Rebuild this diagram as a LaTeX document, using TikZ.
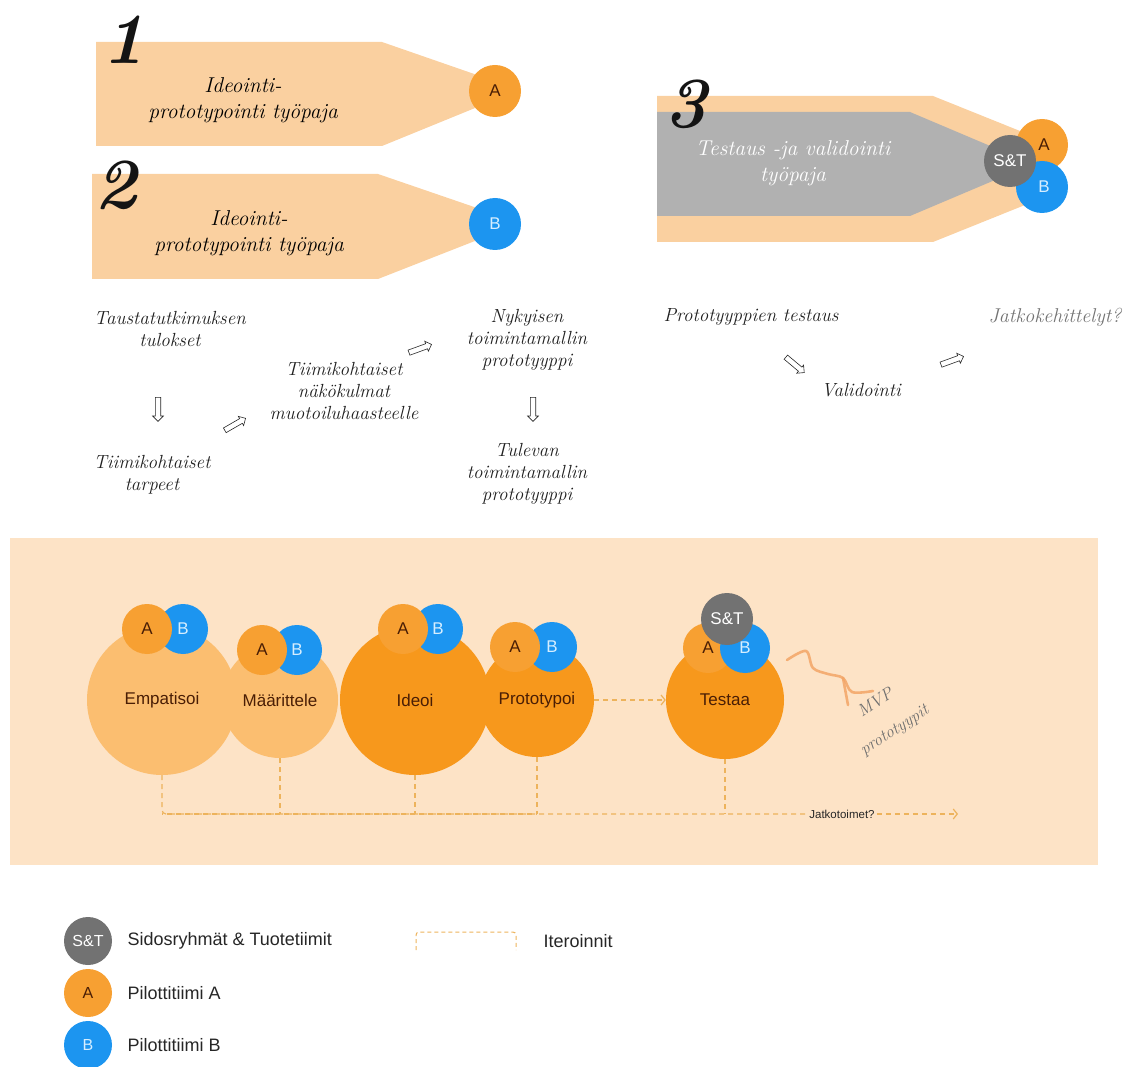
\documentclass[tikz,border=0pt]{standalone}
\usepackage{fontspec}
\setsansfont{Liberation Sans}
\usetikzlibrary{shapes.arrows,arrows.meta}
\definecolor{peach}{HTML}{FAD0A0}
\definecolor{band}{HTML}{FDE3C6}
\definecolor{orA}{HTML}{F7A032}
\definecolor{blB}{HTML}{1C95F0}
\definecolor{gST}{HTML}{727272}
\definecolor{gIn}{HTML}{B1B1B1}
\definecolor{lorange}{HTML}{FBBE70}
\definecolor{dorange}{HTML}{F7981C}
\definecolor{itc}{HTML}{EDB35C}
\definecolor{atext}{HTML}{4A1E05}
\definecolor{btext}{HTML}{D6EEFF}
\definecolor{squig}{HTML}{F3A566}
\definecolor{mvpgray}{HTML}{6E6E6E}
\begin{document}
\begin{tikzpicture}[x=1pt,y=-1pt,
  circA/.style={circle, fill=orA, minimum size=52pt, inner sep=0pt, text=atext, font=\sffamily\fontsize{17}{17}\selectfont},
  circB/.style={circle, fill=blB, minimum size=52pt, inner sep=0pt, text=btext, font=\sffamily\fontsize{17}{17}\selectfont},
  circS/.style={circle, fill=gST, minimum size=52pt, inner sep=0pt, text=white, font=\sffamily\fontsize{17}{17}\selectfont},
  lcirc/.style={circle, minimum size=48pt, inner sep=0pt, font=\sffamily\fontsize{16}{16}\selectfont},
  bigc/.style={circle, inner sep=0pt, text=atext, font=\sffamily\fontsize{17}{17}\selectfont},
  hand/.style={align=center, text=black!88, font=\fontsize{19}{22}\selectfont\itshape\addfontfeature{LetterSpace=3}},
  handbox/.style={align=center, font=\fontsize{21.5}{26}\selectfont\itshape\addfontfeature{LetterSpace=4}},
  numeral/.style={font=\fontsize{72}{72}\selectfont\bfseries\itshape, text=black!92},
  iter/.style={draw=itc, line width=1.2pt, dash pattern=on 5pt off 4pt},
  harrow/.style={single arrow, draw=black!85, line width=0.6pt, minimum height=24pt, inner sep=2.4pt, single arrow head extend=2.6pt},
  legtext/.style={anchor=west, font=\sffamily\fontsize{18}{18}\selectfont, text=black!85}
]
\useasboundingbox (0,0) rectangle (1144,1067);

% ---------- workshop 1 ----------
\fill[peach] (96,42) -- (382,42) -- (480,76) -- (480,106) -- (382,146) -- (96,146) -- cycle;
\node[numeral] (n1) at (124,40) {1};
\node[handbox] (w1) at (243,100) {Ideointi-\\prototypointi työpaja};
\node[circA] (a1) at (495,91) {A};

% ---------- workshop 2 ----------
\fill[peach] (92,174) -- (378,174) -- (480,209) -- (480,239) -- (378,279) -- (92,279) -- cycle;
\node[numeral] (n2) at (116,185) {2};
\node[handbox] (w2) at (249,233) {Ideointi-\\prototypointi työpaja};
\node[circB] (b2) at (495,224) {B};

% ---------- workshop 3 ----------
\fill[peach] (657,96) -- (933,96) -- (1025,133) -- (1025,205) -- (933,242) -- (657,242) -- cycle;
\fill[gIn] (657,112) -- (910,112) -- (995,148) -- (995,180) -- (910,216) -- (657,216) -- cycle;
\node[numeral] (n3) at (686,104) {3};
\node[handbox, text=white] (w3) at (793,163) {Testaus -ja validointi\\työpaja};
\node[circA] (a3) at (1042,145) {\hspace*{4pt}A};
\node[circB] (b3) at (1042,187) {\hspace*{4pt}B};
\node[circS] (s3) at (1010,161) {S\&T};

% ---------- process texts ----------
\node[hand] (t1) at (170,329) {Taustatutkimuksen\\tulokset};
\node[harrow, rotate=-90] (ar1) at (158,408) {};
\node[hand] (t2) at (152,475) {Tiimikohtaiset\\tarpeet};
\node[harrow, rotate=30] (ar2) at (234,425) {};
\node[hand] (t3) at (344,391) {Tiimikohtaiset\\näkökulmat\\muotoiluhaasteelle};
\node[harrow, rotate=20] (ar3) at (419,349) {};
\node[hand] (t4) at (527,340) {Nykyisen\\toimintamallin\\prototyyppi};
\node[harrow, rotate=-90] (ar4) at (533,408) {};
\node[hand] (t5) at (527,474) {Tulevan\\toimintamallin\\prototyyppi};

\node[hand] (t6) at (751,317) {Prototyyppien testaus};
\node[harrow, rotate=-40] (ar5) at (794,364) {};
\node[hand] (t7) at (861,390) {Validointi};
\node[harrow, rotate=20] (ar6) at (951,361) {};
\node[hand, text=black!55, font=\fontsize{20}{22}\selectfont\itshape\addfontfeature{LetterSpace=20}] (t8) at (1055,317) {Jatkokehittelyt?};

% ---------- design thinking band ----------
\fill[band] (10,538) rectangle (1098,865);

\node[bigc, fill=lorange, minimum size=150pt] (emp) at (162,700) {};
\node[bigc, fill=lorange, minimum size=116pt] (maa) at (280,700) {};
\node[bigc, fill=dorange, minimum size=150pt] (ide) at (415,700) {};
\node[bigc, fill=dorange, minimum size=114pt] (pro) at (537,700) {};
\node[bigc, fill=dorange, minimum size=118pt] (tes) at (725,700) {};

\node[bigc] (empl) at (emp) {Empatisoi};
\node[bigc] (maal) at (maa) {Määrittele};
\node[bigc] (idel) at (ide) {Ideoi};
\node[bigc] (prol) at (pro) {Prototypoi};
\node[bigc] (tesl) at (tes) {Testaa};

\node[circB, minimum size=50pt] (eb) at (183,629) {B};
\node[circA, minimum size=50pt] (ea) at (147,629) {A};
\node[circB, minimum size=50pt] (mb) at (297,650) {B};
\node[circA, minimum size=50pt] (ma) at (262,650) {A};
\node[circB, minimum size=50pt] (ib) at (438,629) {B};
\node[circA, minimum size=50pt] (ia) at (403,629) {A};
\node[circB, minimum size=50pt] (pb) at (552,647) {B};
\node[circA, minimum size=50pt] (pa) at (515,647) {A};
\node[circA, minimum size=50pt] (ta) at (708,648) {A};
\node[circB, minimum size=50pt] (tb) at (745,648) {B};
\node[circS, minimum size=52pt] (ts) at (727,619) {S\&T};

% iterations
\coordinate (endc) at (958,814);
\node[fill=band, inner sep=2pt, font=\sffamily\fontsize{11.5}{11.5}\selectfont, text=black!85] (jat) at (842,814) {Jatkotoimet?};
\draw[iter, rounded corners=4pt] (emp.south) |- (jat.west);
\draw[iter, dash phase=4.5pt] (emp.south |- endc) -- (pro.south |- endc);
\draw[iter, -{Straight Barb[length=4pt,width=10pt]}] (jat.east) -- (endc);
\draw[iter] (maa.south) -- (maa.south |- endc);
\draw[iter] (ide.south) -- (ide.south |- endc);
\draw[iter] (pro.south) -- (pro.south |- endc);
\draw[iter] (tes.south) -- (tes.south |- endc);
\draw[iter, -{Straight Barb[length=4pt,width=10pt]}] (pro.east) -- (tes.west);

% MVP squiggle
\draw[squig, line width=2.6pt, line cap=round, line join=round, opacity=.85]
  plot[smooth, tension=0.55] coordinates {(787,660) (806,651) (813,668) (828,674) (843,678) (852,692) (873,691)};
\draw[squig, line width=2.6pt, line cap=round, opacity=.85] (843,678) -- (848,705);
\node[text=mvpgray, rotate=33, font=\fontsize{17}{17}\selectfont\itshape\addfontfeature{LetterSpace=8}] (mvp1) at (875,702) {MVP};
\node[text=mvpgray, rotate=33, font=\fontsize{17}{17}\selectfont\itshape\addfontfeature{LetterSpace=3}] (mvp2) at (895,731) {prototyypit};

% ---------- legend ----------
\node[lcirc, fill=gST, text=white] (ls) at (88,941) {S\&T};
\node[legtext] (lst) at (124,941) {Sidosryhmät \& Tuotetiimit};
\node[lcirc, fill=orA, text=atext] (la) at (88,993) {A};
\node[legtext] (lat) at (124,993) {Pilottitiimi A};
\node[lcirc, fill=blB, text=btext] (lb) at (88,1045) {B};
\node[legtext] (lbt) at (124,1045) {Pilottitiimi B};
\draw[iter, line width=1pt, dash pattern=on 4pt off 3pt, rounded corners=3pt] (416,950) -- (416,932) -- (516,932) -- (516,950);
\node[legtext] (lit) at (540,941) {Iteroinnit};
\end{tikzpicture}
\end{document}
